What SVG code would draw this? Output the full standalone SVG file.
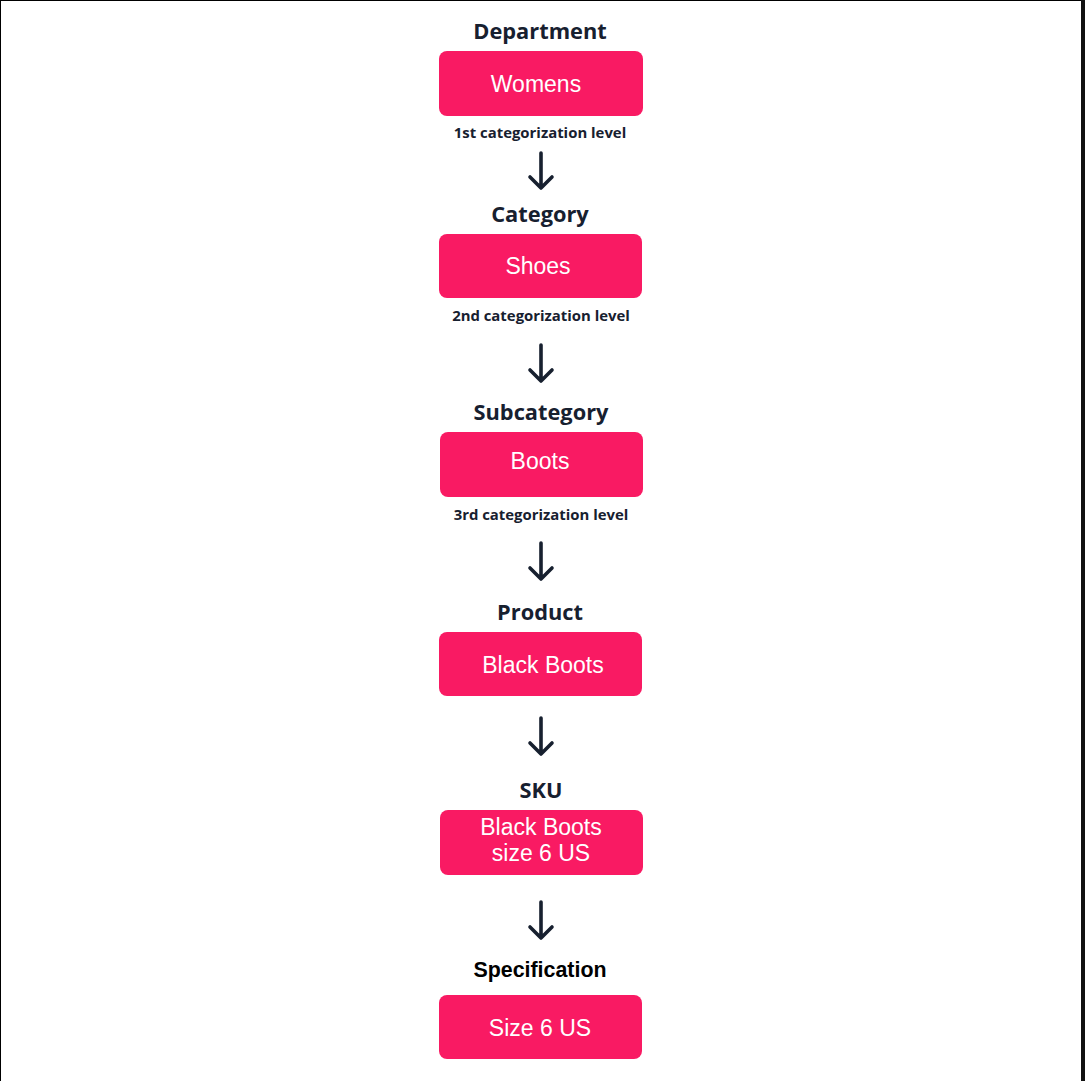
<svg xmlns="http://www.w3.org/2000/svg" width="1085" height="1081" viewBox="0 0 1085 1081">
<style>
.box{fill:#F91A63}
.t{font-family:"Open Sans","Liberation Sans",sans-serif;font-weight:700;font-size:21.8px;fill:#17202F;text-anchor:middle}
.l{font-family:"Open Sans","Liberation Sans",sans-serif;font-weight:700;font-size:14.9px;fill:#17202F;text-anchor:middle}
.w{font-family:"Liberation Sans",Arial,sans-serif;font-size:23px;fill:#FFFFFF;text-anchor:middle}
.s{font-family:"Liberation Sans",Arial,sans-serif;font-weight:700;font-size:21.4px;fill:#000000;text-anchor:middle}
.a{fill:none;stroke:#17202F;stroke-width:3.6;stroke-linecap:round;stroke-linejoin:round}
</style>
<rect x="0" y="0" width="1085" height="1081" fill="#FFFFFF"/>
<rect x="0" y="0" width="1" height="1081" fill="#000"/>
<rect x="0" y="0" width="1085" height="1" fill="#000"/>
<rect x="1081" y="0" width="4" height="1081" fill="#111"/>
<g id="department">
<text class="t" x="540" y="39">Department</text>
<rect class="box" x="439" y="51" width="204" height="65" rx="8"/>
<text class="w" x="536" y="92">Womens</text>
<text class="l" x="540" y="138">1st categorization level</text>
</g>
<g id="category">
<text class="t" x="540" y="222">Category</text>
<rect class="box" x="439" y="234" width="203" height="64" rx="8"/>
<text class="w" x="538" y="274">Shoes</text>
<text class="l" x="541" y="321">2nd categorization level</text>
</g>
<g id="subcategory">
<text class="t" x="541" y="420">Subcategory</text>
<rect class="box" x="440" y="432" width="203" height="65" rx="8"/>
<text class="w" x="540" y="469">Boots</text>
<text class="l" x="541" y="520">3rd categorization level</text>
</g>
<g id="product">
<text class="t" x="540" y="620">Product</text>
<rect class="box" x="439" y="632" width="203" height="64" rx="8"/>
<text class="w" x="543" y="673">Black Boots</text>
</g>
<g id="sku">
<text class="t" x="541" y="798">SKU</text>
<rect class="box" x="440" y="810" width="203" height="65" rx="8"/>
<text class="w" x="541" y="835">Black Boots</text>
<text class="w" x="541" y="861">size 6 US</text>
</g>
<g id="specification">
<text class="s" x="540" y="977">Specification</text>
<rect class="box" x="439" y="995" width="203" height="64" rx="8"/>
<text class="w" x="540" y="1036">Size 6 US</text>
</g>
<g id="connectors">
<path class="a" d="M541 153V188M530 177L541 188L552 177"/>
<path class="a" d="M541 345V381M530 370L541 381L552 370"/>
<path class="a" d="M541 543V579M530 568L541 579L552 568"/>
<path class="a" d="M541 718V754M530 743L541 754L552 743"/>
<path class="a" d="M541 902V938M530 927L541 938L552 927"/>
</g>
</svg>
